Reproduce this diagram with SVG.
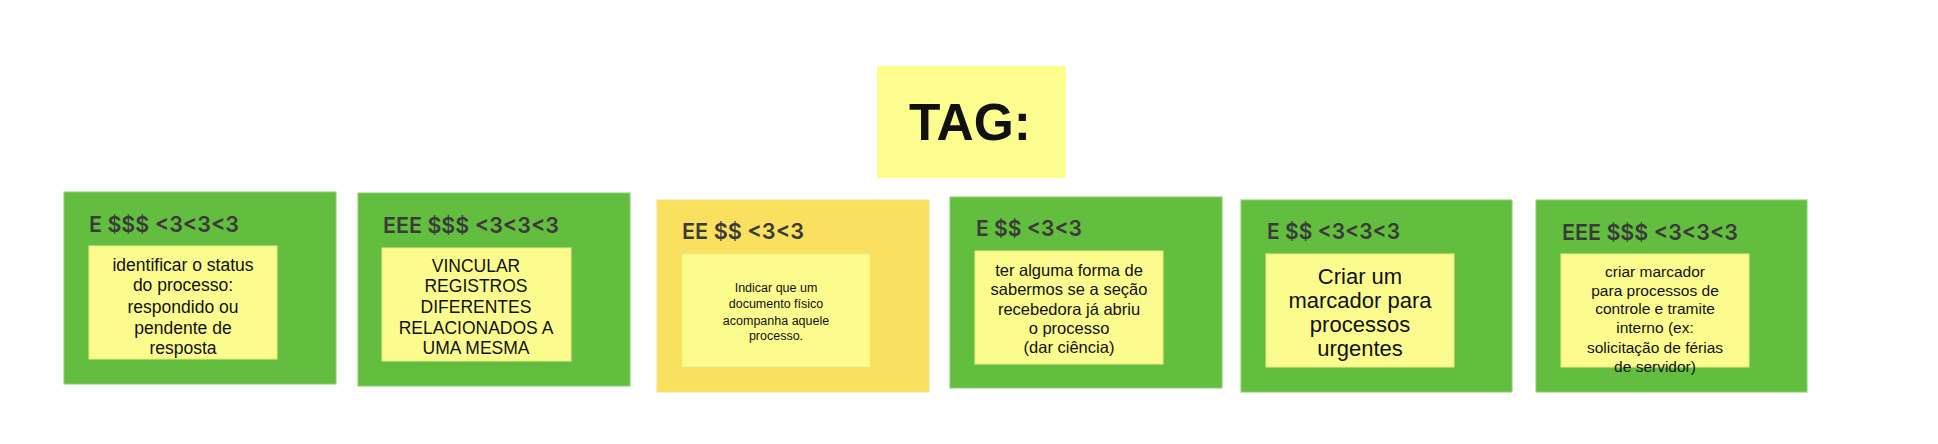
<svg xmlns="http://www.w3.org/2000/svg" width="1938" height="444" viewBox="0 0 1938 444">
<style>
.card{fill:#63be3f;stroke:#86cf66;stroke-width:1}
.cardy{fill:#f9e05f;stroke:#f3e48c;stroke-width:1}
.note{fill:#fcfc8e;stroke:#e8ef7e;stroke-width:1}
.hdr{font-family:Inter,"Liberation Sans",sans-serif;font-size:22px;font-weight:600;fill:#3a3a3a}
.t{font-family:"Liberation Sans",Arial,sans-serif;fill:#111;text-anchor:middle}
</style>
<rect width="1938" height="444" fill="#ffffff"/>
<g id="connectors"></g>
<g id="tag">
<rect x="877" y="66" width="189" height="112" fill="#fdfd8f"/>
<text x="970" y="140" class="t" font-size="52" font-weight="bold" textLength="122" lengthAdjust="spacingAndGlyphs">TAG:</text>
</g>
<g id="card1">
<rect class="card" x="64" y="192" width="272" height="192"/>
<text class="hdr" x="89" y="232" textLength="150" lengthAdjust="spacingAndGlyphs">E $$$ &lt;3&lt;3&lt;3</text>
<rect class="note" x="89" y="246" width="188" height="113"/>
<g class="t" font-size="17.5">
<text x="183" y="271">identificar o status</text>
<text x="183" y="291">do processo:</text>
<text x="183" y="313">respondido ou</text>
<text x="183" y="334">pendente de</text>
<text x="183" y="354">resposta</text>
</g>
</g>
<g id="card2">
<rect class="card" x="358" y="193" width="272" height="193"/>
<text class="hdr" x="383" y="233" textLength="176" lengthAdjust="spacingAndGlyphs">EEE $$$ &lt;3&lt;3&lt;3</text>
<rect class="note" x="382" y="248" width="189" height="113"/>
<g class="t" font-size="17.5">
<text x="476" y="272">VINCULAR</text>
<text x="476" y="292">REGISTROS</text>
<text x="476" y="313">DIFERENTES</text>
<text x="476" y="334">RELACIONADOS A</text>
<text x="476" y="354">UMA MESMA</text>
</g>
</g>
<g id="card3">
<rect class="cardy" x="657" y="200" width="272" height="192"/>
<text class="hdr" x="682" y="239" textLength="122" lengthAdjust="spacingAndGlyphs">EE $$ &lt;3&lt;3</text>
<rect class="note" x="682" y="254" width="188" height="113"/>
<g class="t" font-size="12.5">
<text x="776" y="292">Indicar que um</text>
<text x="776" y="308">documento físico</text>
<text x="776" y="325">acompanha aquele</text>
<text x="776" y="340">processo.</text>
</g>
</g>
<g id="card4">
<rect class="card" x="950" y="197" width="272" height="191"/>
<text class="hdr" x="976" y="236" textLength="106" lengthAdjust="spacingAndGlyphs">E $$ &lt;3&lt;3</text>
<rect class="note" x="975" y="251" width="188" height="113"/>
<g class="t" font-size="16.5">
<text x="1069" y="276">ter alguma forma de</text>
<text x="1069" y="295">sabermos se a seção</text>
<text x="1069" y="315">recebedora já abriu</text>
<text x="1069" y="334">o processo</text>
<text x="1069" y="353">(dar ciência)</text>
</g>
</g>
<g id="card5">
<rect class="card" x="1241" y="200" width="271" height="192"/>
<text class="hdr" x="1267" y="239" textLength="133" lengthAdjust="spacingAndGlyphs">E $$ &lt;3&lt;3&lt;3</text>
<rect class="note" x="1266" y="254" width="188" height="113"/>
<g class="t" font-size="22">
<text x="1360" y="284">Criar um</text>
<text x="1360" y="308">marcador para</text>
<text x="1360" y="332">processos</text>
<text x="1360" y="356">urgentes</text>
</g>
</g>
<g id="card6">
<rect class="card" x="1536" y="200" width="271" height="192"/>
<text class="hdr" x="1562" y="240" textLength="176" lengthAdjust="spacingAndGlyphs">EEE $$$ &lt;3&lt;3&lt;3</text>
<rect class="note" x="1561" y="254" width="188" height="113"/>
<g class="t" font-size="15.5">
<text x="1655" y="277">criar marcador</text>
<text x="1655" y="296">para processos de</text>
<text x="1655" y="314">controle e tramite</text>
<text x="1655" y="333">interno (ex:</text>
<text x="1655" y="353">solicitação de férias</text>
<text x="1655" y="372">de servidor)</text>
</g>
</g>
</svg>
